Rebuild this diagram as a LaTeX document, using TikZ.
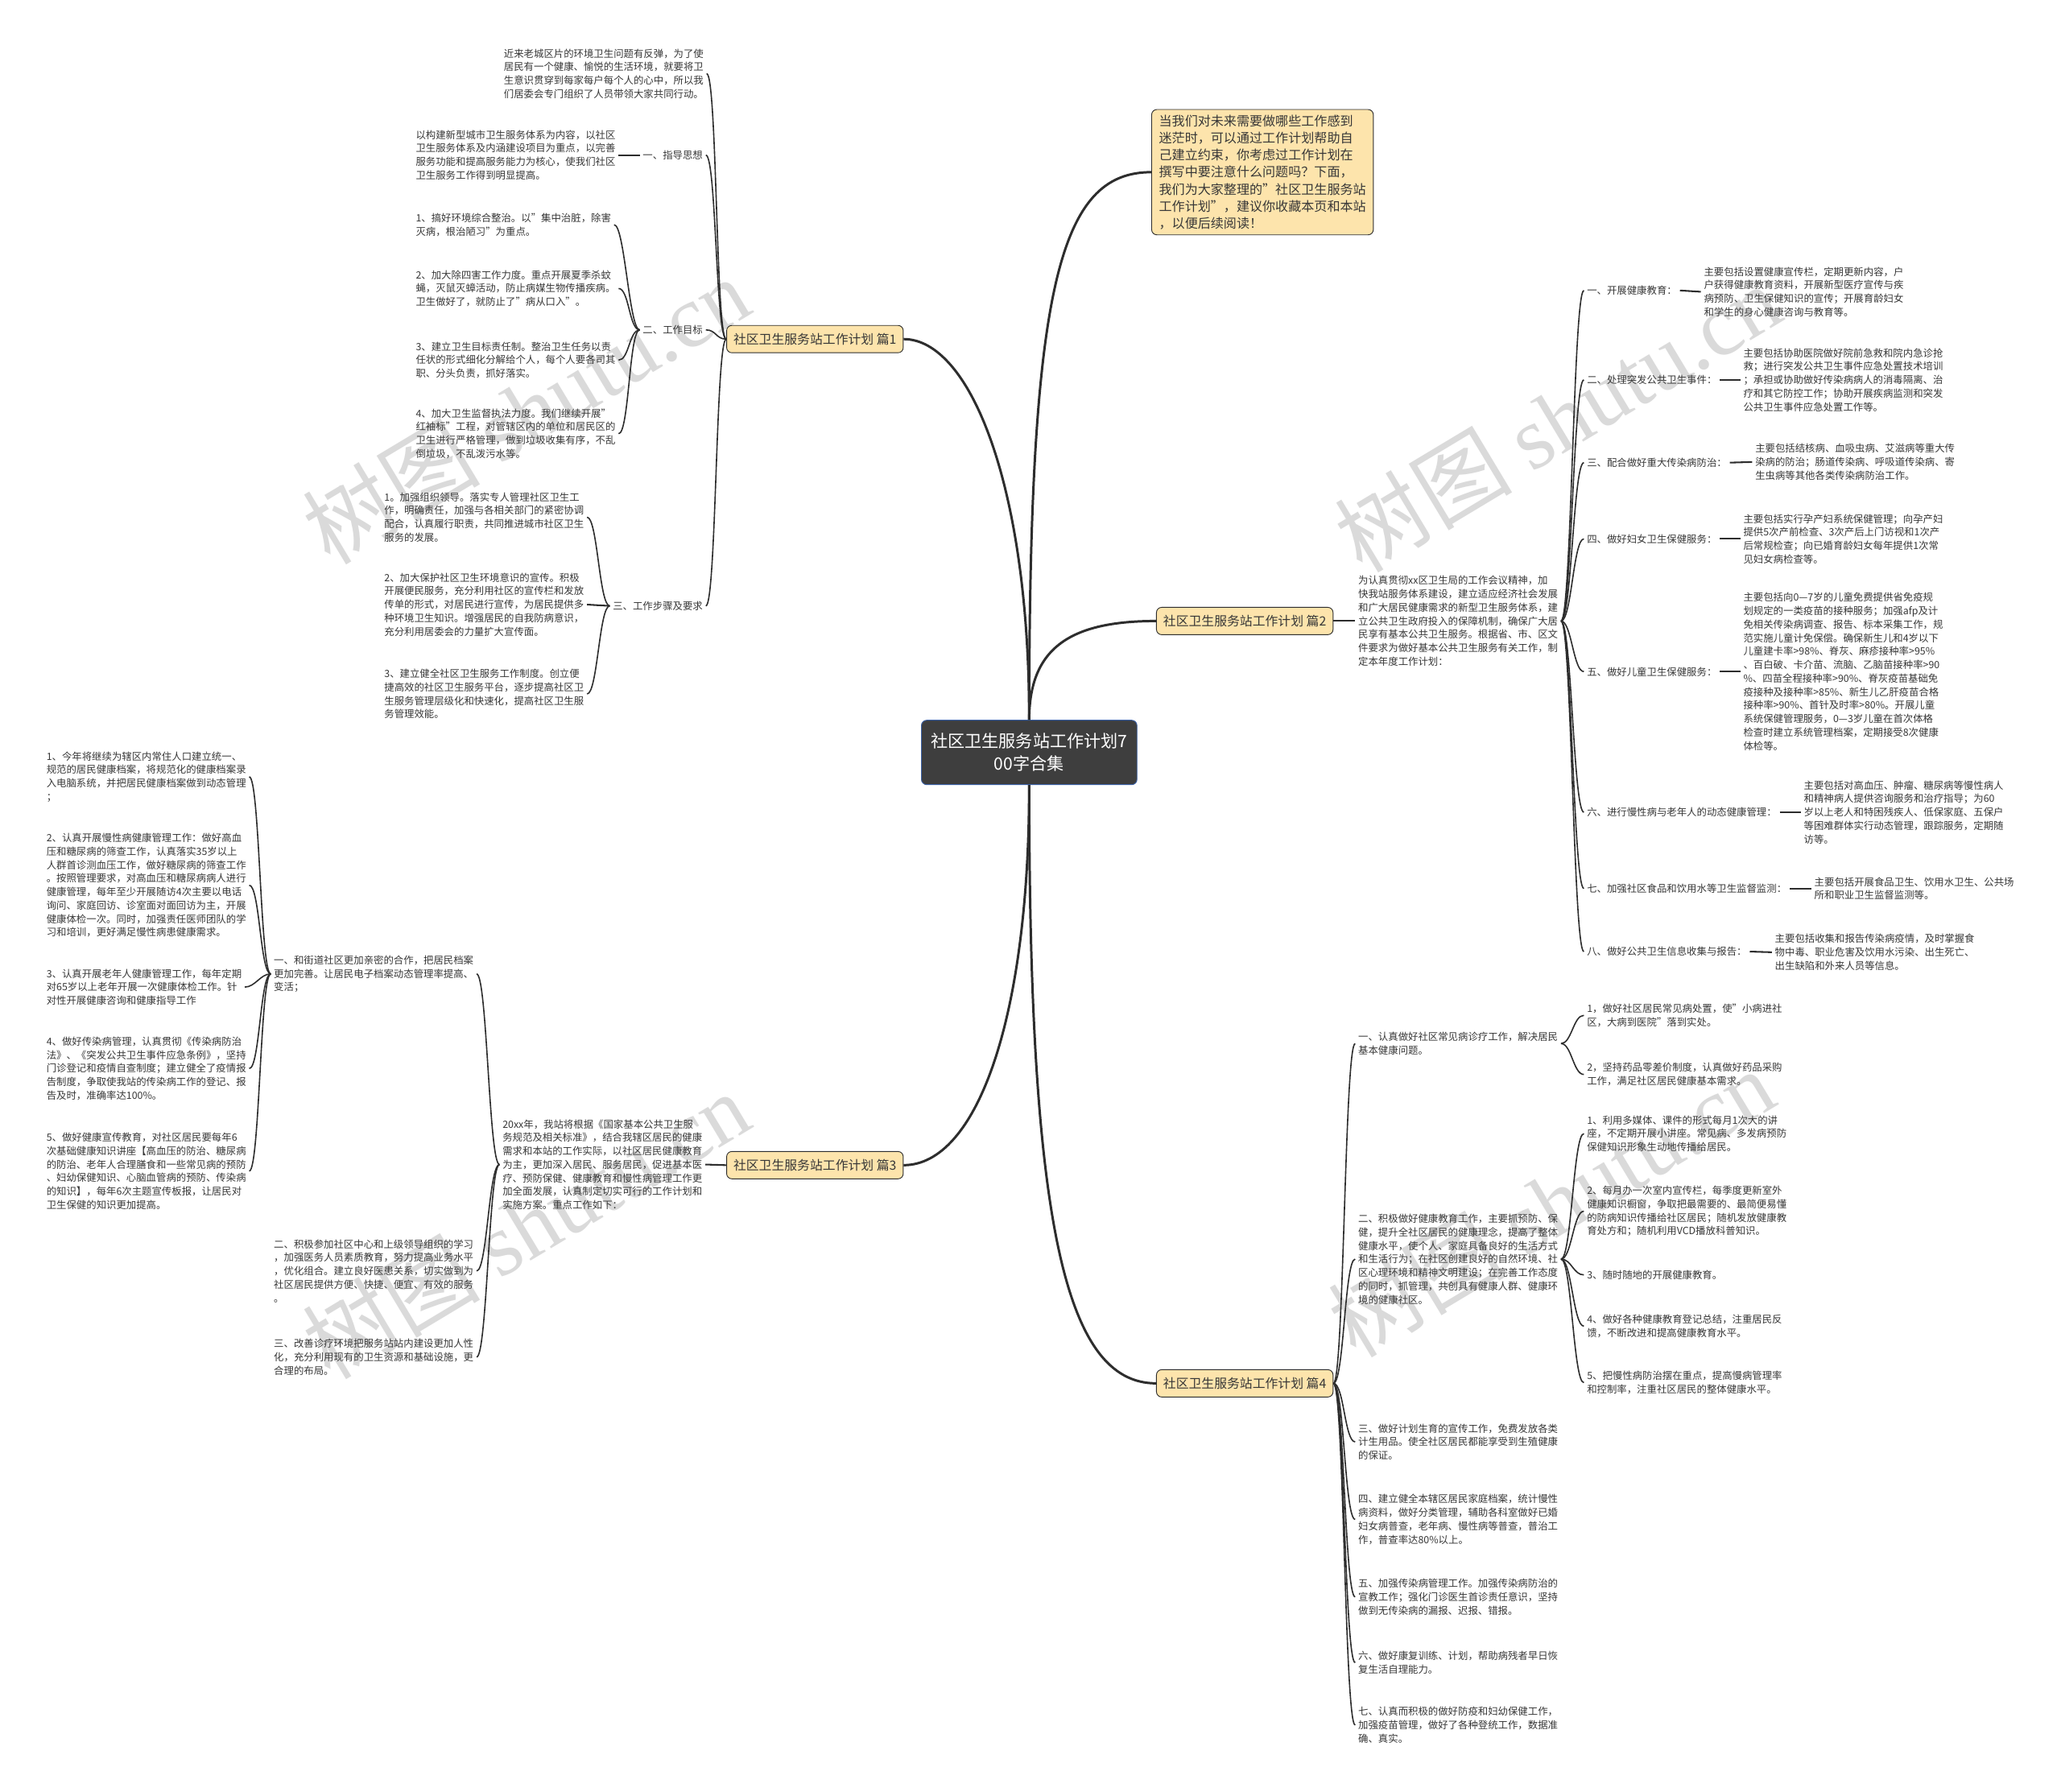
\documentclass[tikz,border=0pt]{standalone}
\usepackage{fontspec}
\setmainfont{Noto Sans CJK SC}
\newfontfamily\markfont{Liberation Serif}
\usetikzlibrary{calc}
\definecolor{BoxOrange}{RGB}{253,228,172}
\definecolor{RootGray}{RGB}{62,62,62}
\definecolor{RootBlue}{RGB}{58,96,165}
\definecolor{LineGray}{RGB}{45,45,45}
\definecolor{TextGray}{RGB}{55,55,55}
\definecolor{MarkGray}{RGB}{218,218,218}
\newcommand{\leafsize}{\fontsize{5.4}{7.3}\selectfont}

\begin{document}
\begin{tikzpicture}[x=0.25mm,y=-0.25mm,
  leaf/.style={font=\leafsize,text=TextGray,align=left,inner sep=1.5pt,anchor=west},
  part/.style={draw=LineGray,fill=BoxOrange,rounded corners=1mm,text=TextGray,
    font=\fontsize{6.9}{8}\selectfont,inner xsep=1.3mm,minimum height=5.2mm},
  trunk/.style={draw=LineGray,line width=1.3pt},
  twig/.style={draw=LineGray,line width=0.7pt},
  stub/.style={draw=LineGray,line width=0.9pt},
  wmark/.style={text=MarkGray,font=\fontsize{48}{48}\selectfont,rotate=31}]
  \fill[white] (0,0) rectangle (1568,1363);
  \useasboundingbox (0,0) rectangle (1568,1363);

  % watermarks
  \node[wmark] (wm1) at (400,312) {树图 {\markfont shutu.cn}};
  \node[wmark] (wm2) at (400,932) {树图 {\markfont shutu.cn}};
  \node[wmark] (wm3) at (1185,318) {树图 {\markfont shutu.cn}};
  \node[wmark] (wm4) at (1180,915) {树图 {\markfont shutu.cn}};

  % centre and parts
  \node[draw=RootBlue,fill=RootGray,text=white,rounded corners=1mm,align=center,
    font=\fontsize{9.2}{12}\selectfont,minimum width=41mm,minimum height=12.25mm]
    (root) at (783,572.5) {社区卫生服务站工作计划7\\00字合集};
  \node[part,align=left,font=\fontsize{7}{9.25}\selectfont,inner xsep=1.4mm,inner ysep=1mm]
    (intro) at (960.5,131) {当我们对未来需要做哪些工作感到\\迷茫时，可以通过工作计划帮助自\\己建立约束，你考虑过工作计划在\\撰写中要注意什么问题吗？下面，\\我们为大家整理的"社区卫生服务站\\工作计划"，建议你收藏本页和本站\\，以便后续阅读！};
  \node[part] (p1) at (620,258) {社区卫生服务站工作计划 篇1};
  \node[part] (p2) at (947,472.5) {社区卫生服务站工作计划 篇2};
  \node[part] (p3) at (620,886.5) {社区卫生服务站工作计划 篇3};
  \node[part] (p4) at (947,1052.5) {社区卫生服务站工作计划 篇4};

  \draw[trunk] (root.north) .. controls +(0,-180) and +(50,0) .. (p1.east);
  \draw[trunk] (root.north) .. controls +(0,-330) and +(-70,0) .. (intro.west);
  \draw[trunk] (root.north) .. controls +(0,-55) and +(-65,0) .. (p2.west);
  \draw[trunk] (root.south) .. controls +(0,180) and +(55,0) .. (p3.east);
  \draw[trunk] (root.south) .. controls +(0,330) and +(-70,0) .. (p4.west);

  % part 1
  \node[leaf] (t1) at (381,56) {近来老城区片的环境卫生问题有反弹，为了使\\居民有一个健康、愉悦的生活环境，就要将卫\\生意识贯穿到每家每户每个人的心中，所以我\\们居委会专门组织了人员带领大家共同行动。};
  \node[leaf,anchor=east] (g1) at (537,118) {一、指导思想};
  \node[leaf] (g1a) at (314,118) {以构建新型城市卫生服务体系为内容，以社区\\卫生服务体系及内涵建设项目为重点，以完善\\服务功能和提高服务能力为核心，使我们社区\\卫生服务工作得到明显提高。};
  \node[leaf,anchor=east] (g2) at (537,251) {二、工作目标};
  \node[leaf] (g2a) at (314,171) {1、搞好环境综合整治。以"集中治脏，除害\\灭病，根治陋习"为重点。};
  \node[leaf] (g2b) at (314,219.5) {2、加大除四害工作力度。重点开展夏季杀蚊\\蝇，灭鼠灭蟑活动，防止病媒生物传播疾病。\\卫生做好了，就防止了"病从口入"。};
  \node[leaf] (g2c) at (314,274) {3、建立卫生目标责任制。整治卫生任务以责\\任状的形式细化分解给个人，每个人要各司其\\职、分头负责，抓好落实。};
  \node[leaf] (g2d) at (314,330) {4、加大卫生监督执法力度。我们继续开展"\\红袖标"工程，对管辖区内的单位和居民区的\\卫生进行严格管理，做到垃圾收集有序，不乱\\倒垃圾，不乱泼污水等。};
  \node[leaf,anchor=east] (g3) at (537,461) {三、工作步骤及要求};
  \node[leaf] (g3a) at (290,393.5) {1。加强组织领导。落实专人管理社区卫生工\\作，明确责任，加强与各相关部门的紧密协调\\配合，认真履行职责，共同推进城市社区卫生\\服务的发展。};
  \node[leaf] (g3b) at (290,460) {2、加大保护社区卫生环境意识的宣传。积极\\开展便民服务，充分利用社区的宣传栏和发放\\传单的形式，对居民进行宣传，为居民提供多\\种环境卫生知识。增强居民的自我防病意识，\\充分利用居委会的力量扩大宣传面。};
  \node[leaf] (g3c) at (290,528) {3、建立健全社区卫生服务工作制度。创立便\\捷高效的社区卫生服务平台，逐步提高社区卫\\生服务管理层级化和快速化，提高社区卫生服\\务管理效能。};

  \draw[twig] (p1.west) .. controls +(-8,0) and +(8,0) .. (t1.east);
  \draw[twig] (p1.west) .. controls +(-8,0) and +(8,0) .. (g1.east);
  \draw[twig] (p1.west) .. controls +(-8,0) and +(8,0) .. (g2.east);
  \draw[twig] (p1.west) .. controls +(-8,0) and +(8,0) .. (g3.east);
  \draw[stub] (g1.west) -- (g1a.east);
  \draw[twig] (g2.west) .. controls +(-8,0) and +(8,0) .. (g2a.east);
  \draw[twig] (g2.west) .. controls +(-8,0) and +(8,0) .. (g2b.east);
  \draw[twig] (g2.west) .. controls +(-8,0) and +(8,0) .. (g2c.east);
  \draw[twig] (g2.west) .. controls +(-8,0) and +(8,0) .. (g2d.east);
  \draw[twig] (g3.west) .. controls +(-8,0) and +(8,0) .. (g3a.east);
  \draw[stub] (g3.west) -- (g3b.east);
  \draw[twig] (g3.west) .. controls +(-8,0) and +(8,0) .. (g3c.east);

  % part 3
  \node[leaf] (h0) at (380,886) {20xx年，我站将根据《国家基本公共卫生服\\务规范及相关标准》，结合我辖区居民的健康\\需求和本站的工作实际，以社区居民健康教育\\为主，更加深入居民、服务居民，促进基本医\\疗、预防保健、健康教育和慢性病管理工作更\\加全面发展，认真制定切实可行的工作计划和\\实施方案。重点工作如下：};
  \node[leaf] (h1) at (206,741) {一、和街道社区更加亲密的合作，把居民档案\\更加完善。让居民电子档案动态管理率提高、\\变活；};
  \node[leaf] (h2) at (206,967) {二、积极参加社区中心和上级领导组织的学习\\，加强医务人员素质教育，努力提高业务水平\\，优化组合。建立良好医患关系，切实做到为\\社区居民提供方便、快捷、便宜、有效的服务\\。};
  \node[leaf] (h3) at (206,1032.5) {三、改善诊疗环境把服务站站内建设更加人性\\化，充分利用现有的卫生资源和基础设施，更\\合理的布局。};
  \node[leaf] (h1a) at (33,591) {1、今年将继续为辖区内常住人口建立统一、\\规范的居民健康档案，将规范化的健康档案录\\入电脑系统，并把居民健康档案做到动态管理\\；};
  \node[leaf] (h1b) at (33,673.5) {2、认真开展慢性病健康管理工作：做好高血\\压和糖尿病的筛查工作，认真落实35岁以上\\人群首诊测血压工作，做好糖尿病的筛查工作\\。按照管理要求，对高血压和糖尿病病人进行\\健康管理，每年至少开展随访4次主要以电话\\询问、家庭回访、诊室面对面回访为主，开展\\健康体检一次。同时，加强责任医师团队的学\\习和培训，更好满足慢性病患健康需求。};
  \node[leaf] (h1c) at (33,751) {3、认真开展老年人健康管理工作，每年定期\\对65岁以上老年开展一次健康体检工作。针\\对性开展健康咨询和健康指导工作};
  \node[leaf] (h1d) at (33,813) {4、做好传染病管理，认真贯彻《传染病防治\\法》、《突发公共卫生事件应急条例》，坚持\\门诊登记和疫情自查制度；建立健全了疫情报\\告制度，争取使我站的传染病工作的登记、报\\告及时，准确率达100\%。};
  \node[leaf] (h1e) at (33,891) {5、做好健康宣传教育，对社区居民要每年6\\次基础健康知识讲座【高血压的防治、糖尿病\\的防治、老年人合理膳食和一些常见病的预防\\、妇幼保健知识、心脑血管病的预防、传染病\\的知识】，每年6次主题宣传板报，让居民对\\卫生保健的知识更加提高。};

  \draw[stub] (p3.west) -- (h0.east);
  \draw[twig] (h0.west) .. controls +(-8,0) and +(8,0) .. (h1.east);
  \draw[twig] (h0.west) .. controls +(-8,0) and +(8,0) .. (h2.east);
  \draw[twig] (h0.west) .. controls +(-8,0) and +(8,0) .. (h3.east);
  \draw[twig] (h1.west) .. controls +(-8,0) and +(8,0) .. (h1a.east);
  \draw[twig] (h1.west) .. controls +(-8,0) and +(8,0) .. (h1b.east);
  \draw[twig] (h1.west) .. controls +(-8,0) and +(8,0) .. (h1c.east);
  \draw[twig] (h1.west) .. controls +(-8,0) and +(8,0) .. (h1d.east);
  \draw[twig] (h1.west) .. controls +(-8,0) and +(8,0) .. (h1e.east);

  % part 2
  \node[leaf] (k0) at (1031,472.5) {为认真贯彻xx区卫生局的工作会议精神，加\\快我站服务体系建设，建立适应经济社会发展\\和广大居民健康需求的新型卫生服务体系，建\\立公共卫生政府投入的保障机制，确保广大居\\民享有基本公共卫生服务。根据省、市、区文\\件要求为做好基本公共卫生服务有关工作，制\\定本年度工作计划：};
  \node[leaf] (k1) at (1205,221) {一、开展健康教育：};
  \node[leaf] (k2) at (1205,289) {二、处理突发公共卫生事件：};
  \node[leaf] (k3) at (1205,352) {三、配合做好重大传染病防治：};
  \node[leaf] (k4) at (1205,410) {四、做好妇女卫生保健服务：};
  \node[leaf] (k5) at (1205,511) {五、做好儿童卫生保健服务：};
  \node[leaf] (k6) at (1205,618) {六、进行慢性病与老年人的动态健康管理：};
  \node[leaf] (k7) at (1205,676) {七、加强社区食品和饮用水等卫生监督监测：};
  \node[leaf] (k8) at (1205,724) {八、做好公共卫生信息收集与报告：};
  \node[leaf] (k1a) at (1294,222) {主要包括设置健康宣传栏，定期更新内容，户\\户获得健康教育资料，开展新型医疗宣传与疾\\病预防、卫生保健知识的宣传；开展育龄妇女\\和学生的身心健康咨询与教育等。};
  \node[leaf] (k2a) at (1324,289) {主要包括协助医院做好院前急救和院内急诊抢\\救；进行突发公共卫生事件应急处置技术培训\\；承担或协助做好传染病病人的消毒隔离、治\\疗和其它防控工作；协助开展疾病监测和突发\\公共卫生事件应急处置工作等。};
  \node[leaf] (k3a) at (1333,351.5) {主要包括结核病、血吸虫病、艾滋病等重大传\\染病的防治；肠道传染病、呼吸道传染病、寄\\生虫病等其他各类传染病防治工作。};
  \node[leaf] (k4a) at (1324,410) {主要包括实行孕产妇系统保健管理；向孕产妇\\提供5次产前检查、3次产后上门访视和1次产\\后常规检查；向已婚育龄妇女每年提供1次常\\见妇女病检查等。};
  \node[leaf] (k5a) at (1324,511) {主要包括向0—7岁的儿童免费提供省免疫规\\划规定的一类疫苗的接种服务；加强afp及计\\免相关传染病调查、报告、标本采集工作，规\\范实施儿童计免保偿。确保新生儿和4岁以下\\儿童建卡率>98\%、脊灰、麻疹接种率>95\%\\、百白破、卡介苗、流脑、乙脑苗接种率>90\\\%、四苗全程接种率>90\%、脊灰疫苗基础免\\疫接种及接种率>85\%、新生儿乙肝疫苗合格\\接种率>90\%、首针及时率>80\%。开展儿童\\系统保健管理服务，0—3岁儿童在首次体格\\检查时建立系统管理档案，定期接受8次健康\\体检等。};
  \node[leaf] (k6a) at (1370,618) {主要包括对高血压、肿瘤、糖尿病等慢性病人\\和精神病人提供咨询服务和治疗指导；为60\\岁以上老人和特困残疾人、低保家庭、五保户\\等困难群体实行动态管理，跟踪服务，定期随\\访等。};
  \node[leaf] (k7a) at (1378,676) {主要包括开展食品卫生、饮用水卫生、公共场\\所和职业卫生监督监测等。};
  \node[leaf] (k8a) at (1348,724.5) {主要包括收集和报告传染病疫情，及时掌握食\\物中毒、职业危害及饮用水污染、出生死亡、\\出生缺陷和外来人员等信息。};

  \draw[stub] (p2.east) -- (k0.west);
  \draw[twig] (k0.east) .. controls +(8,0) and +(-8,0) .. (k1.west);
  \draw[twig] (k0.east) .. controls +(8,0) and +(-8,0) .. (k2.west);
  \draw[twig] (k0.east) .. controls +(8,0) and +(-8,0) .. (k3.west);
  \draw[twig] (k0.east) .. controls +(8,0) and +(-8,0) .. (k4.west);
  \draw[twig] (k0.east) .. controls +(8,0) and +(-8,0) .. (k5.west);
  \draw[twig] (k0.east) .. controls +(8,0) and +(-8,0) .. (k6.west);
  \draw[twig] (k0.east) .. controls +(8,0) and +(-8,0) .. (k7.west);
  \draw[twig] (k0.east) .. controls +(8,0) and +(-8,0) .. (k8.west);
  \draw[stub] (k1.east) -- (k1a.west);
  \draw[stub] (k2.east) -- (k2a.west);
  \draw[stub] (k3.east) -- (k3a.west);
  \draw[stub] (k4.east) -- (k4a.west);
  \draw[stub] (k5.east) -- (k5a.west);
  \draw[stub] (k6.east) -- (k6a.west);
  \draw[stub] (k7.east) -- (k7a.west);
  \draw[stub] (k8.east) -- (k8a.west);

  % part 4
  \node[leaf] (m1) at (1031,794) {一、认真做好社区常见病诊疗工作，解决居民\\基本健康问题。};
  \node[leaf] (m2) at (1031,958) {二、积极做好健康教育工作，主要抓预防、保\\健，提升全社区居民的健康理念，提高了整体\\健康水平，使个人、家庭具备良好的生活方式\\和生活行为；在社区创建良好的自然环境、社\\区心理环境和精神文明建设；在完善工作态度\\的同时，抓管理，共创具有健康人群、健康环\\境的健康社区。};
  \node[leaf] (m3) at (1031,1097) {三、做好计划生育的宣传工作，免费发放各类\\计生用品。使全社区居民都能享受到生殖健康\\的保证。};
  \node[leaf] (m4) at (1031,1156) {四、建立健全本辖区居民家庭档案，统计慢性\\病资料，做好分类管理，辅助各科室做好已婚\\妇女病普查，老年病、慢性病等普查，普治工\\作，普查率达80\%以上。};
  \node[leaf] (m5) at (1031,1215) {五、加强传染病管理工作。加强传染病防治的\\宣教工作；强化门诊医生首诊责任意识，坚持\\做到无传染病的漏报、迟报、错报。};
  \node[leaf] (m6) at (1031,1265) {六、做好康复训练、计划，帮助病残者早日恢\\复生活自理能力。};
  \node[leaf] (m7) at (1031,1312.5) {七、认真而积极的做好防疫和妇幼保健工作，\\加强疫苗管理，做好了各种登统工作，数据准\\确、真实。};
  \node[leaf] (m1a) at (1205,772.5) {1，做好社区居民常见病处置，使"小病进社\\区，大病到医院"落到实处。};
  \node[leaf] (m1b) at (1205,817.5) {2，坚持药品零差价制度，认真做好药品采购\\工作，满足社区居民健康基本需求。};
  \node[leaf] (m2a) at (1205,862.5) {1、利用多媒体、课件的形式每月1次大的讲\\座，不定期开展小讲座。常见病、多发病预防\\保健知识形象生动地传播给居民。};
  \node[leaf] (m2b) at (1205,921.5) {2、每月办一次室内宣传栏，每季度更新室外\\健康知识橱窗，争取把最需要的、最简便易懂\\的防病知识传播给社区居民；随机发放健康教\\育处方和；随机利用VCD播放科普知识。};
  \node[leaf] (m2c) at (1205,970) {3、随时随地的开展健康教育。};
  \node[leaf] (m2d) at (1205,1009) {4、做好各种健康教育登记总结，注重居民反\\馈，不断改进和提高健康教育水平。};
  \node[leaf] (m2e) at (1205,1052) {5、把慢性病防治摆在重点，提高慢病管理率\\和控制率，注重社区居民的整体健康水平。};

  \draw[twig] (p4.east) .. controls +(8,0) and +(-8,0) .. (m1.west);
  \draw[twig] (p4.east) .. controls +(8,0) and +(-8,0) .. (m2.west);
  \draw[twig] (p4.east) .. controls +(8,0) and +(-8,0) .. (m3.west);
  \draw[twig] (p4.east) .. controls +(8,0) and +(-8,0) .. (m4.west);
  \draw[twig] (p4.east) .. controls +(8,0) and +(-8,0) .. (m5.west);
  \draw[twig] (p4.east) .. controls +(8,0) and +(-8,0) .. (m6.west);
  \draw[twig] (p4.east) .. controls +(8,0) and +(-8,0) .. (m7.west);
  \draw[twig] (m1.east) .. controls +(8,0) and +(-8,0) .. (m1a.west);
  \draw[twig] (m1.east) .. controls +(8,0) and +(-8,0) .. (m1b.west);
  \draw[twig] (m2.east) .. controls +(8,0) and +(-8,0) .. (m2a.west);
  \draw[twig] (m2.east) .. controls +(8,0) and +(-8,0) .. (m2b.west);
  \draw[twig] (m2.east) .. controls +(8,0) and +(-8,0) .. (m2c.west);
  \draw[twig] (m2.east) .. controls +(8,0) and +(-8,0) .. (m2d.west);
  \draw[twig] (m2.east) .. controls +(8,0) and +(-8,0) .. (m2e.west);
\end{tikzpicture}
\end{document}
